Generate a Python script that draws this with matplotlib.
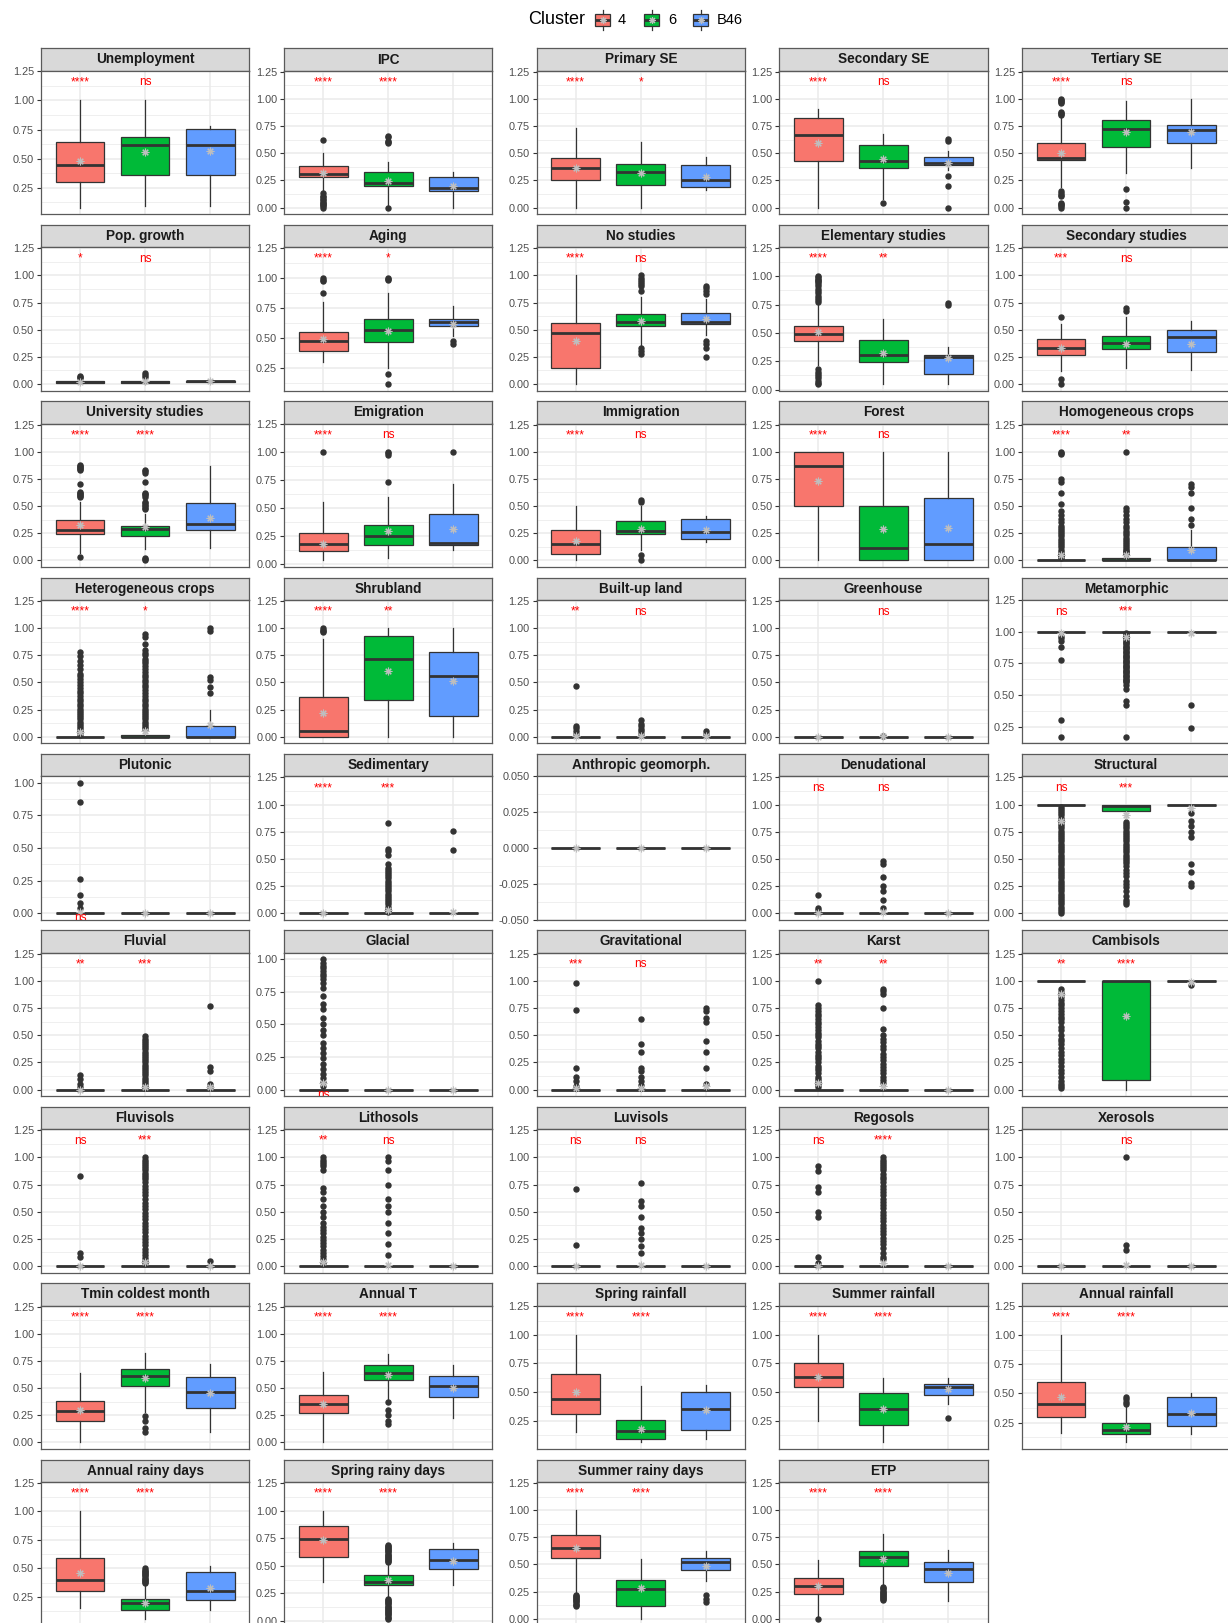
import matplotlib
matplotlib.use('Agg')
import matplotlib.pyplot as plt
from matplotlib.ticker import MultipleLocator, FormatStrFormatter

plt.rcParams['font.family'] = ['Liberation Sans', 'DejaVu Sans']
plt.rcParams['axes.unicode_minus'] = False

ANCHO, ALTO = 1228, 1623

grupos = ['4', '6', 'B46']
colores = ['#F8766D', '#00BA38', '#619CFF']

variables = [
    'Unemployment', 'IPC', 'Primary SE', 'Secondary SE', 'Tertiary SE',
    'Pop. growth', 'Aging', 'No studies', 'Elementary studies', 'Secondary studies',
    'University studies', 'Emigration', 'Immigration', 'Forest', 'Homogeneous crops',
    'Heterogeneous crops', 'Shrubland', 'Built-up land', 'Greenhouse', 'Metamorphic',
    'Plutonic', 'Sedimentary', 'Anthropic geomorph.', 'Denudational', 'Structural',
    'Fluvial', 'Glacial', 'Gravitational', 'Karst', 'Cambisols',
    'Fluvisols', 'Lithosols', 'Luvisols', 'Regosols', 'Xerosols',
    'Tmin coldest month', 'Annual T', 'Spring rainfall', 'Summer rainfall', 'Annual rainfall',
    'Annual rainy days', 'Spring rainy days', 'Summer rainy days', 'ETP',
]

Z = [0.0, 0.0, 0.0, 0.0, 0.0]
U = [1.0, 1.0, 1.0, 1.0, 1.0]

# bigote inferior, Q1, mediana, Q3, bigote superior  (clusters 4, 6, B46)
cajas = [
    [[0.08, 0.30, 0.45, 0.64, 1.00], [0.09, 0.36, 0.62, 0.69, 1.00], [0.09, 0.36, 0.62, 0.755, 0.78]],
    [[0.15, 0.28, 0.305, 0.385, 0.50], [0.02, 0.20, 0.225, 0.325, 0.415], [0.0, 0.15, 0.18, 0.28, 0.325]],
    [[0.0, 0.255, 0.367, 0.458, 0.73], [0.0, 0.206, 0.325, 0.40, 0.60], [0.158, 0.19, 0.258, 0.39, 0.465]],
    [[0.0, 0.43, 0.67, 0.82, 0.91], [0.076, 0.367, 0.43, 0.58, 0.675], [0.35, 0.395, 0.41, 0.465, 0.525]],
    [[0.19, 0.44, 0.455, 0.59, 0.82], [0.317, 0.557, 0.727, 0.81, 0.985], [0.363, 0.597, 0.717, 0.76, 1.0]],
    [[0.0, 0.01, 0.02, 0.03, 0.045], [0.0, 0.01, 0.02, 0.03, 0.05], [0.01, 0.02, 0.025, 0.03, 0.04]],
    [[0.30, 0.39, 0.48, 0.55, 0.80], [0.25, 0.47, 0.57, 0.66, 0.87], [0.52, 0.60, 0.63, 0.66, 0.77]],
    [[0.0, 0.15, 0.47, 0.56, 1.0], [0.36, 0.53, 0.57, 0.64, 0.80], [0.45, 0.55, 0.57, 0.65, 0.78]],
    [[0.22, 0.43, 0.49, 0.56, 0.75], [0.05, 0.24, 0.31, 0.44, 0.62], [0.05, 0.14, 0.29, 0.31, 0.38]],
    [[0.12, 0.27, 0.33, 0.41, 0.55], [0.15, 0.32, 0.38, 0.44, 0.62], [0.13, 0.29, 0.43, 0.50, 0.58]],
    [[0.07, 0.244, 0.277, 0.372, 0.54], [0.107, 0.229, 0.29, 0.314, 0.43], [0.11, 0.28, 0.335, 0.527, 0.87]],
    [[0.03, 0.11, 0.18, 0.28, 0.55], [0.05, 0.17, 0.25, 0.35, 0.60], [0.12, 0.17, 0.19, 0.45, 0.72]],
    [[0.0, 0.06, 0.15, 0.28, 0.50], [0.10, 0.24, 0.27, 0.36, 0.50], [0.17, 0.20, 0.26, 0.38, 0.41]],
    [[0.0, 0.50, 0.87, 1.0, 1.0], [0.0, 0.0, 0.11, 0.50, 1.0], [0.0, 0.0, 0.15, 0.57, 1.0]],
    [[0.0, 0.0, 0.0, 0.005, 0.01], [0.0, 0.0, 0.0, 0.02, 0.05], [0.0, 0.0, 0.0, 0.12, 0.28]],
    [Z, [0.0, 0.0, 0.0, 0.02, 0.05], [0.0, 0.0, 0.0, 0.10, 0.25]],
    [[0.0, 0.0, 0.05, 0.37, 0.90], [0.0, 0.34, 0.72, 0.93, 1.0], [0.0, 0.19, 0.56, 0.78, 1.0]],
    [Z, Z, Z],
    [Z, Z, Z],
    [U, U, U],
    [Z, Z, Z],
    [Z, Z, Z],
    [Z, Z, Z],
    [Z, Z, Z],
    [U, [0.86, 0.94, 0.99, 1.0, 1.0], U],
    [Z, Z, Z],
    [Z, Z, Z],
    [Z, Z, Z],
    [Z, Z, Z],
    [U, [0.0, 0.09, 1.0, 1.0, 1.0], U],
    [Z, Z, Z],
    [Z, Z, Z],
    [Z, Z, Z],
    [Z, Z, Z],
    [Z, Z, Z],
    [[0.0, 0.20, 0.29, 0.38, 0.64], [0.28, 0.52, 0.61, 0.68, 0.82], [0.10, 0.32, 0.46, 0.60, 0.72]],
    [[0.0, 0.27, 0.35, 0.44, 0.65], [0.40, 0.57, 0.64, 0.71, 0.81], [0.22, 0.42, 0.52, 0.61, 0.71]],
    [[0.15, 0.31, 0.44, 0.66, 1.0], [0.06, 0.09, 0.16, 0.26, 0.55], [0.09, 0.17, 0.35, 0.50, 0.56]],
    [[0.25, 0.54, 0.63, 0.75, 1.0], [0.06, 0.21, 0.35, 0.49, 0.62], [0.40, 0.47, 0.54, 0.57, 0.62]],
    [[0.16, 0.30, 0.41, 0.60, 1.0], [0.08, 0.15, 0.19, 0.25, 0.40], [0.15, 0.22, 0.32, 0.47, 0.50]],
    [[0.15, 0.30, 0.40, 0.59, 1.0], [0.06, 0.14, 0.20, 0.23, 0.35], [0.14, 0.22, 0.30, 0.47, 0.52]],
    [[0.35, 0.58, 0.74, 0.86, 1.0], [0.22, 0.33, 0.35, 0.42, 0.52], [0.33, 0.47, 0.55, 0.65, 0.71]],
    [[0.25, 0.56, 0.65, 0.77, 1.0], [0.0, 0.12, 0.27, 0.36, 0.55], [0.35, 0.45, 0.52, 0.56, 0.62]],
    [[0.02, 0.23, 0.30, 0.38, 0.54], [0.30, 0.49, 0.57, 0.62, 0.78], [0.16, 0.34, 0.46, 0.52, 0.63]],
]

medias = [
    [0.48, 0.56, 0.57], [0.315, 0.245, 0.20], [0.367, 0.315, 0.28], [0.595, 0.446, 0.41], [0.50, 0.696, 0.70],
    [0.02, 0.025, 0.025], [0.49, 0.56, 0.62], [0.40, 0.58, 0.60], [0.51, 0.32, 0.28], [0.33, 0.37, 0.37],
    [0.33, 0.305, 0.393], [0.18, 0.29, 0.31], [0.18, 0.29, 0.28], [0.73, 0.29, 0.30], [0.05, 0.05, 0.10],
    [0.04, 0.05, 0.11], [0.22, 0.61, 0.51], [0.01, 0.01, 0.005], [0.0, 0.005, 0.0], [0.99, 0.96, 0.99],
    [0.01, 0.0, 0.0], [0.0, 0.03, 0.01], [0.0, 0.0, 0.0], [0.0, 0.01, 0.0], [0.85, 0.90, 0.97],
    [0.0, 0.02, 0.02], [0.05, 0.0, 0.0], [0.01, 0.01, 0.03], [0.06, 0.03, 0.0], [0.88, 0.68, 0.99],
    [0.0, 0.04, 0.0], [0.04, 0.01, 0.0], [0.0, 0.01, 0.0], [0.0, 0.03, 0.0], [0.0, 0.01, 0.0],
    [0.30, 0.59, 0.45], [0.35, 0.62, 0.50], [0.50, 0.18, 0.34], [0.63, 0.35, 0.53], [0.47, 0.21, 0.33],
    [0.46, 0.20, 0.33], [0.73, 0.37, 0.54], [0.65, 0.28, 0.49], [0.30, 0.55, 0.42],
]

atipicos = [
    [[], [], []],
    [[0.62, 0.13, 0.11, 0.10, 0.08, 0.07, 0.05, 0.04, 0.03, 0.02, 0.01, 0.0], [0.66, 0.65, 0.61, 0.60, 0.59, 0.0], []],
    [[], [], []],
    [[], [0.045], [0.63, 0.61, 0.29, 0.20, 0.0]],
    [[1.0, 0.99, 0.98, 0.97, 0.96, 0.88, 0.87, 0.86, 0.85, 0.15, 0.13, 0.12, 0.11, 0.04, 0.03, 0.02, 0.01, 0.0], [0.17, 0.05, 0.0], []],
    [[0.055, 0.065, 0.07], [0.06, 0.08, 0.10], []],
    [[1.0, 0.98, 0.97, 0.87], [1.0, 0.99, 0.98, 0.20, 0.12], [0.48, 0.45]],
    [[], [1.0, 0.98, 0.96, 0.94, 0.92, 0.90, 0.86, 0.33, 0.30, 0.28], [0.90, 0.88, 0.86, 0.83, 0.40, 0.37, 0.33, 0.25]],
    [[1.0, 0.99, 0.98, 0.97, 0.96, 0.95, 0.93, 0.91, 0.89, 0.87, 0.85, 0.83, 0.81, 0.79, 0.77,
      0.18, 0.16, 0.14, 0.12, 0.10, 0.08, 0.06, 0.05], [], [0.76, 0.75]],
    [[0.62, 0.05, 0.0], [0.70, 0.67], []],
    [[0.88, 0.87, 0.86, 0.85, 0.84, 0.83, 0.70, 0.63, 0.62, 0.61, 0.60, 0.59, 0.58, 0.03],
     [0.83, 0.82, 0.80, 0.72, 0.62, 0.61, 0.60, 0.58, 0.54, 0.53, 0.51, 0.50, 0.48, 0.47, 0.02, 0.01, 0.0], []],
    [[1.0], [1.0, 0.99, 0.98, 0.73], [1.0]],
    [[], [0.56, 0.54, 0.05, 0.0], []],
    [[], [], []],
    [[1.0, 0.99, 0.98, 0.75, 0.72, 0.62, 0.52, 0.45, 0.42, 0.38, 0.35, 0.32, 0.30, 0.28, 0.26, 0.24, 0.22,
      0.20, 0.18, 0.16, 0.14, 0.12, 0.10, 0.08, 0.06, 0.05, 0.04, 0.03, 0.02],
     [1.0, 0.48, 0.45, 0.42, 0.38, 0.35, 0.32, 0.30, 0.27, 0.25, 0.23, 0.21, 0.19, 0.17, 0.15, 0.13, 0.11,
      0.10, 0.09, 0.08, 0.07, 0.06],
     [0.70, 0.68, 0.62, 0.48, 0.38, 0.33]],
    [[0.78, 0.74, 0.70, 0.66, 0.62, 0.58, 0.56, 0.53, 0.50, 0.48, 0.45, 0.42, 0.40, 0.38, 0.35, 0.33, 0.30,
      0.28, 0.26, 0.24, 0.22, 0.20, 0.18, 0.16, 0.14, 0.12, 0.10, 0.08, 0.06, 0.04, 0.02],
     [0.95, 0.92, 0.85, 0.80, 0.77, 0.75, 0.72, 0.70, 0.68, 0.65, 0.62, 0.60, 0.57, 0.55, 0.52, 0.50, 0.48,
      0.46, 0.43, 0.40, 0.38, 0.35, 0.33, 0.30, 0.28, 0.26, 0.24, 0.22, 0.20, 0.18, 0.16, 0.14, 0.12, 0.10,
      0.08, 0.07],
     [1.0, 0.97, 0.55, 0.52, 0.46, 0.40]],
    [[1.0, 0.98, 0.97, 0.96], [], []],
    [[0.47, 0.10, 0.08, 0.05, 0.03], [0.15, 0.12, 0.10, 0.07, 0.05, 0.03], [0.05, 0.03]],
    [[], [0.01], []],
    [[0.97, 0.95, 0.93, 0.88, 0.78, 0.30, 0.17],
     [0.99, 0.98, 0.97, 0.96, 0.95, 0.94, 0.93, 0.92, 0.91, 0.90, 0.89, 0.88, 0.87, 0.86, 0.85, 0.84, 0.83,
      0.82, 0.81, 0.80, 0.79, 0.78, 0.77, 0.76, 0.75, 0.74, 0.73, 0.72, 0.71, 0.70, 0.69, 0.68, 0.67, 0.66,
      0.65, 0.64, 0.63, 0.62, 0.61, 0.60, 0.58, 0.55, 0.45, 0.42, 0.17],
     [0.42, 0.24]],
    [[1.0, 0.85, 0.26, 0.14, 0.08, 0.04], [], []],
    [[], [0.83, 0.59, 0.57, 0.54, 0.45, 0.42, 0.40, 0.38, 0.36, 0.34, 0.32, 0.30, 0.28, 0.26, 0.24, 0.22,
          0.20, 0.18, 0.16, 0.14, 0.12, 0.10, 0.08, 0.06, 0.04, 0.02, 0.01], [0.76, 0.58]],
    [[], [], []],
    [[0.17, 0.05, 0.03], [0.48, 0.45, 0.33, 0.25, 0.20, 0.12, 0.05], []],
    [[0.98, 0.96, 0.94, 0.92, 0.90, 0.88, 0.86, 0.84, 0.82, 0.80, 0.78, 0.76, 0.74, 0.72, 0.70, 0.68, 0.66,
      0.64, 0.62, 0.60, 0.58, 0.56, 0.54, 0.52, 0.50, 0.48, 0.46, 0.44, 0.42, 0.40, 0.38, 0.36, 0.34, 0.32,
      0.30, 0.28, 0.26, 0.24, 0.22, 0.20, 0.18, 0.16, 0.14, 0.12, 0.10, 0.08, 0.06, 0.04, 0.02, 0.0],
     [0.84, 0.82, 0.80, 0.78, 0.76, 0.74, 0.72, 0.70, 0.68, 0.66, 0.64, 0.62, 0.60, 0.58, 0.56, 0.54, 0.52,
      0.50, 0.48, 0.46, 0.43, 0.40, 0.37, 0.34, 0.30, 0.27, 0.24, 0.20, 0.16, 0.12, 0.10, 0.08],
     [0.92, 0.85, 0.80, 0.75, 0.70, 0.45, 0.38, 0.28, 0.25]],
    [[0.13, 0.10, 0.05, 0.02],
     [0.49, 0.47, 0.45, 0.43, 0.41, 0.39, 0.37, 0.35, 0.33, 0.31, 0.29, 0.27, 0.25, 0.23, 0.21, 0.19, 0.17,
      0.15, 0.13, 0.11, 0.09, 0.07, 0.05, 0.03, 0.01],
     [0.77, 0.21, 0.17, 0.05, 0.02]],
    [[1.0, 0.97, 0.95, 0.93, 0.91, 0.89, 0.87, 0.85, 0.82, 0.78, 0.72, 0.66, 0.62, 0.55, 0.50, 0.46, 0.42,
      0.36, 0.32, 0.28, 0.24, 0.20, 0.16, 0.12, 0.09, 0.06, 0.03], [], []],
    [[0.98, 0.73, 0.20, 0.12, 0.08, 0.03], [0.65, 0.42, 0.35, 0.20, 0.17, 0.12, 0.08, 0.04],
     [0.75, 0.72, 0.66, 0.62, 0.45, 0.35, 0.20, 0.05]],
    [[1.0, 0.78, 0.75, 0.72, 0.70, 0.68, 0.65, 0.62, 0.60, 0.58, 0.55, 0.52, 0.50, 0.48, 0.45, 0.42, 0.40,
      0.38, 0.35, 0.32, 0.30, 0.28, 0.25, 0.22, 0.20, 0.18, 0.15, 0.12, 0.10, 0.08, 0.06, 0.04, 0.02],
     [0.93, 0.91, 0.88, 0.75, 0.56, 0.50, 0.47, 0.44, 0.40, 0.37, 0.33, 0.30, 0.27, 0.24, 0.21, 0.18, 0.15,
      0.12, 0.09, 0.06], []],
    [[0.93, 0.90, 0.88, 0.85, 0.82, 0.80, 0.78, 0.75, 0.72, 0.70, 0.67, 0.65, 0.62, 0.58, 0.55, 0.50, 0.47,
      0.45, 0.42, 0.38, 0.35, 0.32, 0.28, 0.25, 0.22, 0.18, 0.15, 0.12, 0.08, 0.05, 0.03, 0.01], [], [0.96]],
    [[0.83, 0.12, 0.08],
     [1.0, 0.98, 0.96, 0.94, 0.92, 0.90, 0.88, 0.86, 0.84, 0.82, 0.80, 0.77, 0.74, 0.71, 0.68, 0.65, 0.62,
      0.58, 0.55, 0.52, 0.49, 0.46, 0.43, 0.40, 0.37, 0.34, 0.31, 0.28, 0.25, 0.22, 0.19, 0.16, 0.13, 0.10,
      0.07, 0.05, 0.03],
     [0.05]],
    [[1.0, 0.98, 0.96, 0.94, 0.92, 0.88, 0.72, 0.68, 0.62, 0.55, 0.50, 0.45, 0.40, 0.36, 0.33, 0.30, 0.27,
      0.24, 0.21, 0.18, 0.15, 0.12, 0.09, 0.06, 0.03],
     [1.0, 0.97, 0.88, 0.75, 0.62, 0.55, 0.50, 0.40, 0.30, 0.20, 0.10], []],
    [[0.71, 0.19], [0.76, 0.60, 0.55, 0.45, 0.35, 0.30, 0.25, 0.18, 0.12], []],
    [[0.92, 0.87, 0.73, 0.68, 0.50, 0.45, 0.08, 0.03],
     [1.0, 0.98, 0.96, 0.94, 0.92, 0.90, 0.88, 0.85, 0.82, 0.80, 0.77, 0.74, 0.71, 0.68, 0.65, 0.62, 0.59,
      0.56, 0.53, 0.50, 0.47, 0.44, 0.41, 0.38, 0.35, 0.32, 0.29, 0.26, 0.23, 0.20, 0.17, 0.12, 0.08, 0.06],
     []],
    [[], [1.0, 0.19, 0.15], []],
    [[], [0.24, 0.20, 0.13, 0.10], []],
    [[], [0.37, 0.30, 0.25, 0.20, 0.17], []],
    [[], [], []],
    [[], [], [0.27]],
    [[], [0.47, 0.45, 0.43, 0.41], []],
    [[], [0.50, 0.49, 0.48, 0.47, 0.46, 0.45, 0.44, 0.43, 0.42, 0.41, 0.40, 0.39, 0.38, 0.37], []],
    [[], [0.69, 0.68, 0.67, 0.66, 0.65, 0.64, 0.63, 0.62, 0.61, 0.60, 0.59, 0.58, 0.57, 0.56, 0.55, 0.54,
          0.53, 0.20, 0.19, 0.18, 0.17, 0.16, 0.15, 0.14, 0.13, 0.12, 0.11, 0.10, 0.09, 0.08, 0.07, 0.06,
          0.05, 0.04, 0.03, 0.02], []],
    [[0.22, 0.21, 0.20, 0.19, 0.18, 0.17, 0.16, 0.15, 0.14, 0.13, 0.12], [], [0.22, 0.18, 0.15]],
    [[0.0], [0.29, 0.28, 0.27, 0.26, 0.25, 0.24, 0.23, 0.22, 0.21, 0.20, 0.19, 0.18, 0.17], []],
]

# significancia de los clusters 4 y 6 frente a B46
signif = [
    ['****', 'ns'], ['****', '****'], ['****', '*'], ['****', 'ns'], ['****', 'ns'],
    ['*', 'ns'], ['****', '*'], ['****', 'ns'], ['****', '**'], ['***', 'ns'],
    ['****', '****'], ['****', 'ns'], ['****', 'ns'], ['****', 'ns'], ['****', '**'],
    ['****', '*'], ['****', '**'], ['**', 'ns'], ['', 'ns'], ['ns', '***'],
    ['ns', ''], ['****', '***'], ['', ''], ['ns', 'ns'], ['ns', '***'],
    ['**', '***'], ['ns', ''], ['***', 'ns'], ['**', '**'], ['**', '****'],
    ['ns', '***'], ['**', 'ns'], ['ns', 'ns'], ['ns', '****'], ['', 'ns'],
    ['****', '****'], ['****', '****'], ['****', '****'], ['****', '****'], ['****', '****'],
    ['****', '****'], ['****', '****'], ['****', '****'], ['****', '****'],
]
altura_signif = 1.2
signif_abajo = {'Plutonic': 0.0, 'Glacial': 0.0}

# disposicion en pixeles
col_izq = [41.0, 284.1, 536.7, 779.3, 1022.0]
panel_ancho = 208.2
fila_top = 48.3
fila_paso = 176.4
tira_alto = 22.4
panel_alto = 143.4
BORDE = '#5a5a5a'


def px(x, y, w, h):
    return [x / ANCHO, 1 - (y + h) / ALTO, w / ANCHO, h / ALTO]


fig = plt.figure(figsize=(ANCHO / 100, ALTO / 100), dpi=100)

for i, nombre in enumerate(variables):
    fila, col = divmod(i, 5)
    x0 = col_izq[col]
    y0 = fila_top + fila * fila_paso

    # tira con el nombre
    axt = fig.add_axes(px(x0, y0, panel_ancho, tira_alto))
    axt.set_facecolor('#D9D9D9')
    axt.set_xticks([])
    axt.set_yticks([])
    for s in axt.spines.values():
        s.set_color(BORDE)
        s.set_linewidth(0.9)
    axt.text(0.5, 0.5, nombre, transform=axt.transAxes, ha='center', va='center',
             fontsize=9.8, fontweight='bold', color='#1A1A1A')

    ax = fig.add_axes(px(x0, y0 + tira_alto, panel_ancho, panel_alto))
    stats = []
    for g in range(3):
        lo, q1, me, q3, hi = cajas[i][g]
        stats.append(dict(whislo=lo, q1=q1, med=me, q3=q3, whishi=hi,
                          fliers=atipicos[i][g], mean=medias[i][g]))
    bp = ax.bxp(stats, positions=[1, 2, 3], widths=0.75, patch_artist=True,
                showmeans=True, showcaps=False,
                boxprops=dict(edgecolor='#333333', linewidth=0.9),
                whiskerprops=dict(color='#333333', linewidth=0.9),
                medianprops=dict(color='#333333', linewidth=2.0),
                flierprops=dict(marker='o', markerfacecolor='#333333', markeredgecolor='#333333',
                                markersize=3.6, linestyle='none'),
                meanprops=dict(marker=(8, 2, 0), markeredgecolor='#BEBEBE', markerfacecolor='#BEBEBE',
                               markersize=5.5, markeredgewidth=0.8, linestyle='none'))
    for caja, c in zip(bp['boxes'], colores):
        caja.set_facecolor(c)

    # limites como ggplot (rango + 5 %)
    vals = [v for c in cajas[i] for v in c] + [v for a in atipicos[i] for v in a]
    y_lbl = signif_abajo.get(nombre, altura_signif)
    if any(signif[i]):
        vals.append(y_lbl)
    lo, hi = min(vals), max(vals)
    if hi == lo:
        ax.set_ylim(lo - 0.05, hi + 0.05)
        paso, fmt = 0.025, '%.3f'
    else:
        r = hi - lo
        ax.set_ylim(lo - 0.05 * r, hi + 0.05 * r)
        paso, fmt = 0.25, '%.2f'
    ax.yaxis.set_major_locator(MultipleLocator(paso))
    ax.yaxis.set_minor_locator(MultipleLocator(paso / 2))
    ax.yaxis.set_major_formatter(FormatStrFormatter(fmt))
    ax.set_xlim(0.4, 3.6)
    ax.set_xticks([1, 2, 3])
    ax.set_xticklabels([])
    ax.tick_params(axis='x', length=0)
    ax.tick_params(axis='y', which='major', length=3, width=0.8, color='#333333',
                   labelsize=7.8, labelcolor='#4D4D4D', pad=2)
    ax.tick_params(axis='y', which='minor', length=0)
    ax.set_axisbelow(True)
    ax.grid(True, which='major', color='#EBEBEB', linewidth=1.1)
    ax.yaxis.grid(True, which='minor', color='#EBEBEB', linewidth=0.55)
    for s in ax.spines.values():
        s.set_color(BORDE)
        s.set_linewidth(0.9)

    for k, etiqueta in enumerate(signif[i]):
        if etiqueta:
            ax.annotate(etiqueta, xy=(k + 1, y_lbl), xytext=(0, -5.9), textcoords='offset points',
                        ha='center', va='baseline', color='red', fontsize=8.6,
                        annotation_clip=False, clip_on=True)

# leyenda
fig.text(528 / ANCHO, 1 - 20 / ALTO, 'Cluster', fontsize=13, va='center', ha='left', color='black')
axl = fig.add_axes(px(585, 6, 200, 28))
axl.set_xlim(585, 785)
axl.set_ylim(0, 28)
axl.axis('off')
centros = [603, 652, 701]
clave = [dict(whislo=4, q1=8, med=14, q3=20, whishi=24, fliers=[], mean=14) for _ in grupos]
bl = axl.bxp(clave, positions=centros, widths=15, patch_artist=True, showmeans=True, showcaps=False,
             boxprops=dict(edgecolor='#333333', linewidth=0.9),
             whiskerprops=dict(color='#333333', linewidth=0.9),
             medianprops=dict(color='#333333', linewidth=2.0),
             meanprops=dict(marker=(8, 2, 0), markeredgecolor='#BEBEBE', markersize=5,
                            markeredgewidth=0.8, linestyle='none'))
for caja, c in zip(bl['boxes'], colores):
    caja.set_facecolor(c)
for xlab, g in zip([618, 668, 717], grupos):
    fig.text(xlab / ANCHO, 1 - 20 / ALTO, g, fontsize=10.5, va='center', ha='left')

fig.savefig('out.png', dpi=100)
